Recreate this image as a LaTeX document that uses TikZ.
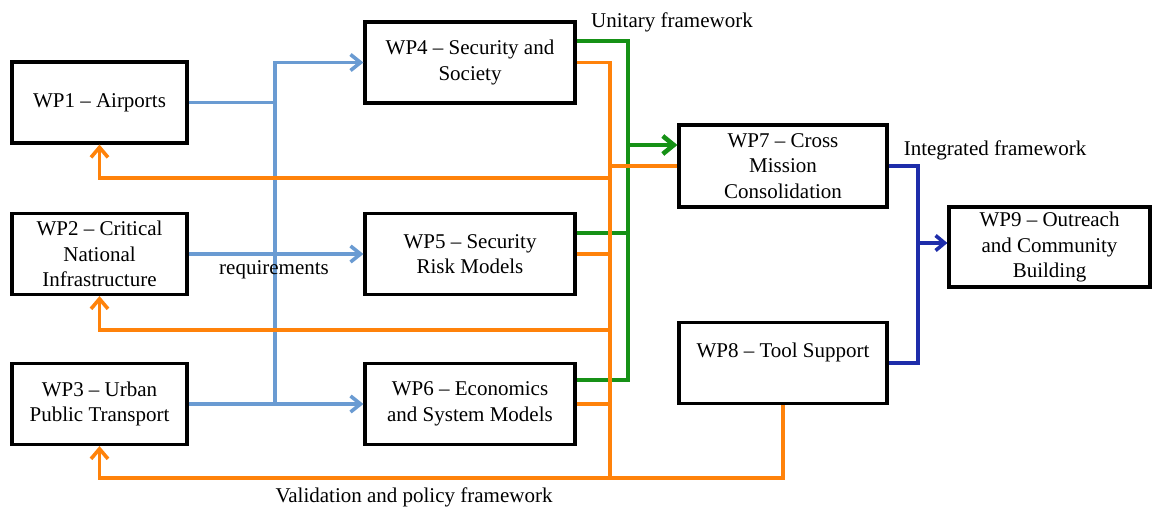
\documentclass[tikz,border=0pt]{standalone}
\usepackage{fontspec}
\setmainfont{Liberation Serif}
\usetikzlibrary{arrows.meta}
\definecolor{reqblue}{RGB}{106,155,210}
\definecolor{unigreen}{RGB}{22,145,22}
\definecolor{valorange}{RGB}{255,130,10}
\definecolor{intblue}{RGB}{30,45,170}

\begin{document}
\begin{tikzpicture}[x=1pt, y=-1pt, every node/.style={font=\fontsize{21}{25.5}\selectfont}]
        \tikzstyle{wp}=[draw, line width=3.2pt, shape=rectangle, align=center, inner sep=0pt, minimum width=210pt, minimum height=81pt]
        \tikzstyle{small wp}=[wp, minimum width=175pt]
        \tikzstyle{flowtext}=[fill=none, draw=none, inner sep=0pt]
        \tikzstyle{req}=[reqblue, line width=3.6pt]
        \tikzstyle{req arrow}=[req, -{Straight Barb[length=10pt, width=16pt]}]
        \tikzstyle{uni}=[unigreen, line width=3.6pt]
        \tikzstyle{uni arrow}=[unigreen, line width=4.6pt, -{Straight Barb[length=11pt, width=18pt]}]
        \tikzstyle{val}=[valorange, line width=3.6pt]
        \tikzstyle{val arrow}=[val, -{Straight Barb[length=10pt, width=17pt]}]
        \tikzstyle{int}=[intblue, line width=3.6pt]
        \tikzstyle{int arrow}=[int, -{Straight Barb[length=9pt, width=15pt]}]
        \useasboundingbox (0,0) rectangle (1153,511);

        % work packages
        \node [style=small wp] (wp1) at (99.5, 102.5) {WP1 -- Airports};
        \node [style=small wp] (wp2) at (99.5, 254) {WP2 -- Critical\\National\\Infrastructure};
        \node [style=small wp] (wp3) at (99.5, 404) {WP3 -- Urban\\Public Transport};
        \node [style=wp] (wp4) at (470, 62.5) {WP4 -- Security and\\Society};
        \node [style=wp] (wp5) at (470, 254) {WP5 -- Security\\Risk Models};
        \node [style=wp] (wp6) at (470, 404) {WP6 -- Economics\\and System Models};
        \node [style=wp, minimum width=208pt, minimum height=82pt] (wp7) at (783, 166) {WP7 -- Cross\\Mission\\Consolidation};
        \node [style=wp, minimum width=208pt, text depth=26pt] (wp8) at (783, 363) {WP8 -- Tool Support};
        \node [style=wp, minimum width=201pt, minimum height=80pt] (wp9) at (1049.5, 247) {WP9 -- Outreach\\and Community\\Building};

        % bus points
        \coordinate (b1) at (275, 102.5);
        \coordinate (gtop) at (628, 41);
        \coordinate (otop) at (610, 62.5);
        \coordinate (f1) at (610, 178);
        \coordinate (f2) at (610, 330);
        \coordinate (obot) at (610, 478);
        \coordinate (ibus) at (918, 166);
        \coordinate (g4) at ([yshift=21.5pt]wp4.east);
        \coordinate (g5) at ([yshift=21pt]wp5.east);
        \coordinate (g6) at ([yshift=24pt]wp6.east);
        \coordinate (g7) at ([yshift=21pt]wp7.west);
        \coordinate (i9) at ([yshift=4pt]wp9.west);

        % requirements
        \draw [style=req] (wp1.east) to (b1);
        \draw [style=req arrow] (b1 |- wp6.west) |- (wp4.west);
        \draw [style=req arrow] (wp2.east) to (wp5.west);
        \draw [style=req arrow] (wp3.east) to (wp6.west);
        \node [style=flowtext] (requirements) at (274, 270) {requirements};

        % unitary framework
        \draw [style=uni] (g4) to (gtop) to (g6 -| gtop) to (g6);
        \draw [style=uni] (g5) to (g5 -| gtop);
        \draw [style=uni arrow] (g7 -| gtop) to (g7);
        \node [style=flowtext] (unitary) at (672, 22) {Unitary framework};

        % validation and policy framework
        \draw [style=val] (wp4.east) to (otop) to (obot);
        \draw [style=val] (wp5.east) to (wp5.east -| otop);
        \draw [style=val] (wp6.east) to (wp6.east -| otop);
        \draw [style=val] (wp7.west) to (wp7.west -| otop);
        \draw [style=val arrow] (f1) -| (wp1.south);
        \draw [style=val arrow] (f2) -| (wp2.south);
        \draw [style=val arrow] (wp8.south) |- (obot) -| (wp3.south);
        \node [style=flowtext] (validation) at (414, 497) {Validation and policy framework};

        % integrated framework
        \draw [style=int] (wp7.east) to (ibus) |- (wp8.east);
        \draw [style=int arrow] (i9 -| ibus) to (i9);
        \node [style=flowtext] (integrated) at (995, 150) {Integrated framework};
\end{tikzpicture}
\end{document}
